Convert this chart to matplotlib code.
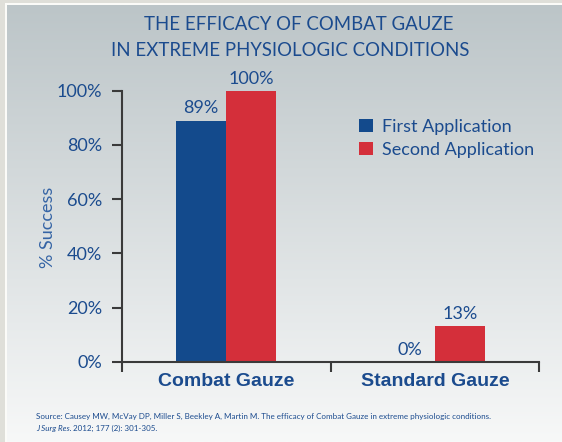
import matplotlib
matplotlib.use('Agg')
import matplotlib.pyplot as plt
import numpy as np
from matplotlib.colors import to_rgb
from matplotlib.patches import Rectangle

categories = ['Combat Gauze', 'Standard Gauze']
first_application = [89, 0]
second_application = [100, 13]
series_names = ['First Application', 'Second Application']
y_ticks = [0, 20, 40, 60, 80, 100]

title_lines = ['THE EFFICACY OF COMBAT GAUZE', 'IN EXTREME PHYSIOLOGIC CONDITIONS']
source_line1 = ('Source: Causey MW, McVay DP, Miller S, Beekley A, Martin M. '
                'The efficacy of Combat Gauze in extreme physiologic conditions.')
source_journal = 'J Surg Res.'
source_rest = ' 2012; 177 (2): 301-305.'

BLUE = '#134a8c'
RED = '#d42f3a'
TEXT = '#1b4b8e'
LIGHT_TEXT = '#3564a5'
AXIS = '#3a3a3a'
FONT = 'Lato'

W, H = 562, 442
fig = plt.figure(figsize=(W / 100, H / 100), dpi=100)
fig.patch.set_facecolor('#dfdfd9')

# white frame line and gradient panel
fig.patches.append(Rectangle((5 / W, 0), 1, 1 - 3 / H, transform=fig.transFigure,
                             facecolor='#fbfbf8', edgecolor='none', zorder=-3))
bg = fig.add_axes([7 / W, 0, 1 - 7 / W, 1 - 5 / H], zorder=-2)
top, bottom = np.array(to_rgb('#bcc5c8')), np.array(to_rgb('#f7f8f8'))
t = np.linspace(0, 1, 256)[:, None, None]
bg.imshow(top + (bottom - top) * t, aspect='auto', extent=(0, 1, 0, 1))
bg.set_axis_off()

ax = fig.add_axes([121.7 / W, 1 - 361.7 / H, 417.6 / W, 271 / H])
ax.set_facecolor('none')

x = np.arange(len(categories))
width = 0.24
b1 = ax.bar(x - width / 2, first_application, width, color=BLUE, label=series_names[0])
b2 = ax.bar(x + width / 2, second_application, width, color=RED, label=series_names[1])
for bars, vals in ((b1, first_application), (b2, second_application)):
    ax.bar_label(bars, labels=[f'{v}%' for v in vals], padding=3,
                 fontsize=13, color=TEXT, family=FONT)

ax.set_xlim(-0.5, 1.5)
ax.set_ylim(0, 100)
for s in ('top', 'right'):
    ax.spines[s].set_visible(False)
for s in ('left', 'bottom'):
    ax.spines[s].set_color(AXIS)
    ax.spines[s].set_linewidth(1.5)

ax.set_yticks(y_ticks)
ax.set_yticklabels([f'{v}%' for v in y_ticks])
ax.tick_params(axis='y', direction='out', length=7.2, width=1.5, color=AXIS,
               labelsize=13, labelcolor=TEXT, pad=7)
ax.set_xticks([-0.5, 0.5, 1.5])
ax.set_xticklabels([])
ax.tick_params(axis='x', which='major', direction='out', length=7.5, width=1.5, color=AXIS)
ax.set_xticks(x, minor=True)
ax.set_xticklabels(categories, minor=True)
ax.tick_params(axis='x', which='minor', length=0, pad=8, labelsize=14, labelcolor=TEXT)
for lbl in ax.get_xticklabels(minor=True):
    lbl.set_fontweight('bold')
    lbl.set_family('Liberation Sans')
for lbl in ax.get_yticklabels():
    lbl.set_family(FONT)

ax.set_ylabel('% Success', fontsize=13, color=LIGHT_TEXT, family=FONT, va='center')
ax.yaxis.set_label_coords((48 - 121.7) / 417.6, (361.7 - 227) / 271)

leg = ax.legend(loc='upper left', bbox_to_anchor=(359 / W, 1 - 119 / H),
                bbox_transform=fig.transFigure, frameon=False,
                prop={'family': FONT, 'size': 13}, handlelength=0.75, handleheight=0.72,
                handletextpad=0.5, labelspacing=0.4, borderpad=0, borderaxespad=0)
for txt in leg.get_texts():
    txt.set_color(TEXT)

fig.text(299 / W, 1 - 30 / H, title_lines[0], ha='center', va='baseline',
         fontsize=13.4, color=TEXT, family=FONT)
fig.text(289.7 / W, 1 - 55.7 / H, title_lines[1], ha='center', va='baseline',
         fontsize=13.4, color=TEXT, family=FONT)

fig.text(35.7 / W, 1 - 416 / H, source_line1, ha='left', va='center',
         fontsize=5.8, color=TEXT, family=FONT)
j = fig.text(35.7 / W, 1 - 428 / H, source_journal, ha='left', va='center',
             fontsize=5.8, color=TEXT, family=FONT, style='italic')
ax.annotate(source_rest, xy=(1, 0.5), xycoords=j, ha='left', va='center',
            fontsize=5.8, color=TEXT, family=FONT, annotation_clip=False)

fig.savefig('out.png', dpi=100, facecolor=fig.get_facecolor())
